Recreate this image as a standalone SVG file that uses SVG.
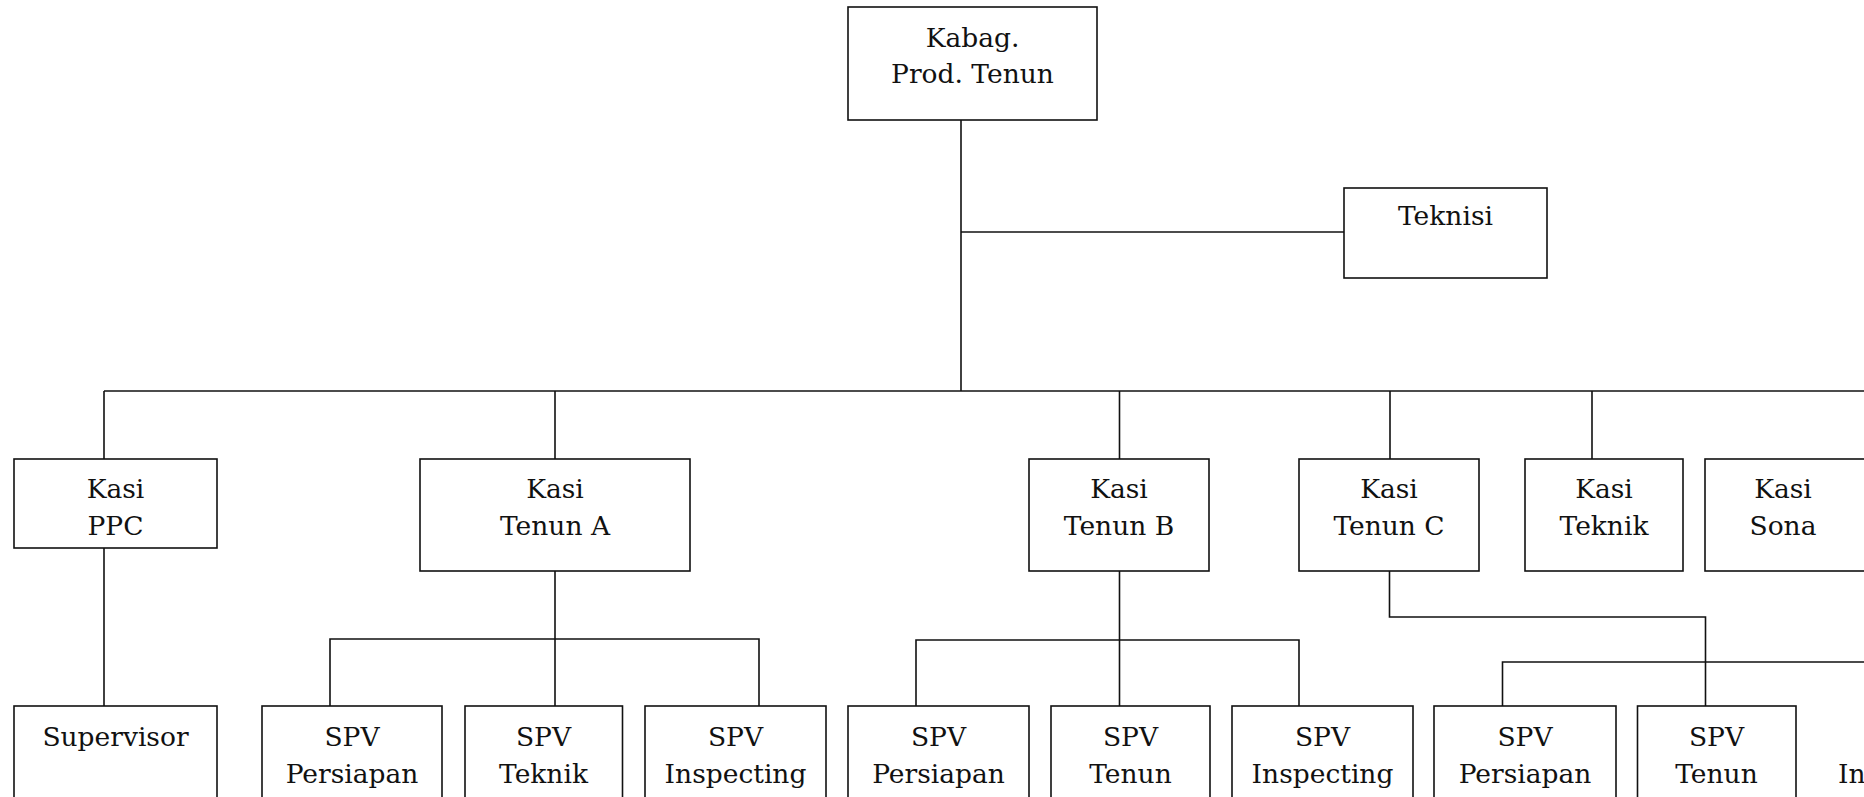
<svg xmlns="http://www.w3.org/2000/svg" width="1864" height="797" viewBox="0 0 1864 797">
<style>
.box{fill:#fff;stroke:#111;stroke-width:1.6}
.t{font-family:"DejaVu Serif","Liberation Serif",serif;font-size:26.5px;fill:#111;text-anchor:middle}
.c{fill:none;stroke:#111;stroke-width:1.6}
</style>
<rect width="1864" height="797" fill="#fff"/>
<g id="connectors">
<path class="c" d="M961 120V391"/>
<path class="c" d="M961 232H1344"/>
<path class="c" d="M104 391H1870"/>
<path class="c" d="M104 391V459M555 391V459M1119.5 391V459M1390 391V459M1592 391V459"/>
<path class="c" d="M104 548V706"/>
<path class="c" d="M555 571V706M330 706V639H759V706"/>
<path class="c" d="M1119.5 571V706M916 706V640H1299V706"/>
<path class="c" d="M1389.5 571V617H1705.5V706"/>
<path class="c" d="M1502.5 706V662H1870"/>
</g>
<g id="kabag">
<rect class="box" x="848" y="7" width="249" height="113"/>
<text class="t" x="972.5" y="47">Kabag.</text>
<text class="t" x="972.5" y="83">Prod. Tenun</text>
</g>
<g id="teknisi">
<rect class="box" x="1344" y="188" width="203" height="90"/>
<text class="t" x="1445.5" y="225">Teknisi</text>
</g>
<g id="kasi-ppc">
<rect class="box" x="14" y="459" width="203" height="89"/>
<text class="t" x="115.5" y="498">Kasi</text>
<text class="t" x="115.5" y="535">PPC</text>
</g>
<g id="kasi-tenun-a">
<rect class="box" x="420" y="459" width="270" height="112"/>
<text class="t" x="555" y="498">Kasi</text>
<text class="t" x="555" y="535">Tenun A</text>
</g>
<g id="kasi-tenun-b">
<rect class="box" x="1029" y="459" width="180" height="112"/>
<text class="t" x="1119" y="498">Kasi</text>
<text class="t" x="1119" y="535">Tenun B</text>
</g>
<g id="kasi-tenun-c">
<rect class="box" x="1299" y="459" width="180" height="112"/>
<text class="t" x="1389" y="498">Kasi</text>
<text class="t" x="1389" y="535">Tenun C</text>
</g>
<g id="kasi-teknik">
<rect class="box" x="1525" y="459" width="158" height="112"/>
<text class="t" x="1604" y="498">Kasi</text>
<text class="t" x="1604" y="535">Teknik</text>
</g>
<g id="kasi-sona">
<rect class="box" x="1705" y="459" width="180" height="112"/>
<text class="t" x="1783" y="498">Kasi</text>
<text class="t" x="1783" y="535">Sona</text>
</g>
<g id="supervisor">
<rect class="box" x="14" y="706" width="203" height="110"/>
<text class="t" x="115.5" y="746">Supervisor</text>
</g>
<g id="spv-persiapan-a">
<rect class="box" x="262" y="706" width="180" height="110"/>
<text class="t" x="352" y="746">SPV</text>
<text class="t" x="352" y="783">Persiapan</text>
</g>
<g id="spv-teknik-a">
<rect class="box" x="465" y="706" width="157.5" height="110"/>
<text class="t" x="543.5" y="746">SPV</text>
<text class="t" x="543.5" y="783">Teknik</text>
</g>
<g id="spv-inspecting-a">
<rect class="box" x="645" y="706" width="181" height="110"/>
<text class="t" x="735.5" y="746">SPV</text>
<text class="t" x="735.5" y="783">Inspecting</text>
</g>
<g id="spv-persiapan-b">
<rect class="box" x="848" y="706" width="181" height="110"/>
<text class="t" x="938.5" y="746">SPV</text>
<text class="t" x="938.5" y="783">Persiapan</text>
</g>
<g id="spv-tenun-b">
<rect class="box" x="1051" y="706" width="159" height="110"/>
<text class="t" x="1130.5" y="746">SPV</text>
<text class="t" x="1130.5" y="783">Tenun</text>
</g>
<g id="spv-inspecting-b">
<rect class="box" x="1232" y="706" width="181" height="110"/>
<text class="t" x="1322.5" y="746">SPV</text>
<text class="t" x="1322.5" y="783">Inspecting</text>
</g>
<g id="spv-persiapan-c">
<rect class="box" x="1434" y="706" width="182" height="110"/>
<text class="t" x="1525" y="746">SPV</text>
<text class="t" x="1525" y="783">Persiapan</text>
</g>
<g id="spv-tenun-c">
<rect class="box" x="1637.5" y="706" width="158.5" height="110"/>
<text class="t" x="1716.5" y="746">SPV</text>
<text class="t" x="1716.5" y="783">Tenun</text>
</g>
<g id="spv-inspecting-c">
<text class="t" x="1838" y="783" style="text-anchor:start">Inspecting</text>
</g>
</svg>
